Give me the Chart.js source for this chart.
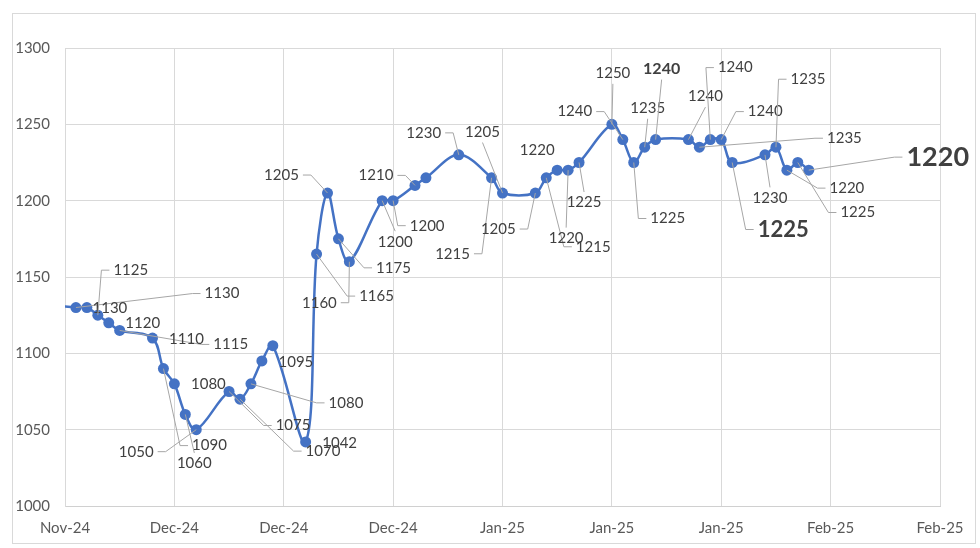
<!DOCTYPE html>
<html>
<head>
<meta charset="utf-8">
<script src="https://cdn.jsdelivr.net/npm/chart.js@4.4.1/dist/chart.umd.min.js"></script>
<style>
  html, body { margin: 0; padding: 0; background: #fff; }
  #wrap { width: 980px; height: 548px; }
</style>
</head>
<body>
<div id="wrap"><canvas id="priceChart" width="980" height="548"></canvas></div>
<script>
// days counted from the start of the axis (one tick every 10 days)
const days = [-3, 1, 2, 3, 4, 5, 8, 9, 10, 11, 12, 15, 16, 17, 18, 19, 22, 23, 24, 25, 26, 29, 30, 32, 33,
  36, 39, 40, 43, 44, 45, 46, 47, 50, 51, 52, 53, 54, 57, 58, 59, 60, 61, 64, 65, 66, 67, 68];
const prices = [1133, 1130, 1130, 1125, 1120, 1115, 1110, 1090, 1080, 1060, 1050, 1075, 1070, 1080, 1095, 1105,
  1042, 1165, 1205, 1175, 1160, 1200, 1200, 1210, 1215, 1230, 1215, 1205, 1205, 1215, 1220, 1220, 1225,
  1250, 1240, 1225, 1235, 1240, 1240, 1235, 1240, 1240, 1225, 1230, 1235, 1220, 1225, 1220];
const xTickLabels = ["Nov-24", "Dec-24", "Dec-24", "Dec-24", "Jan-25", "Jan-25", "Jan-25", "Feb-25", "Feb-25"];

// where each data label sits, relative to its point (null = no label)
const labelOffsets = [
  null, [146, -14], [23, 1], [33, -45], [34, 0], [111, 14], [34, 1], [46, 77], [34, 0], [9, 49],
  [-60, 22], [64, 34], [83, 52], [95, 19], [34, 1], null, [34, 1], [60, 42], [-46, -18], [55, 29],
  [-30, 41], [13, 41], [34, 25], [-39, -10], null, [-35, -22], [-39, 76], [-20, -61], [-37, 36], [47, 69],
  [-20, -20], [-2, 68], [5, 40], [1, -51], [-48, -28], [34, 56], [3, -39], [6, -71], [17, -43], [145, -9],
  [25, -72], [44, -28], [51, 67], [5, 43], [32, -68], [60, 18], [60, 50], [129, -13]
];
// bigger bold labels
const labelSizes = { 37: 16, 42: 22, 47: 27 };

const frame = {
  id: "frame",
  beforeDraw(chart) {
    const ctx = chart.ctx;
    ctx.save();
    ctx.strokeStyle = "#d9d9d9";
    ctx.lineWidth = 1;
    ctx.strokeRect(12.5, 13.5, 963, 530);
    ctx.restore();
  },
};

const dataLabels = {
  id: "dataLabels",
  afterDatasetsDraw(chart) {
    const ctx = chart.ctx;
    const meta = chart.getDatasetMeta(0);
    ctx.save();
    meta.data.forEach((pt, i) => {
      const off = labelOffsets[i];
      if (!off) return;
      const size = labelSizes[i] || 15;
      ctx.font = (labelSizes[i] ? "bold " : "") + size + "px Lato";
      const text = String(prices[i]);
      const w = ctx.measureText(text).width;
      const cx = pt.x + off[0];
      const cy = pt.y + off[1];
      const left = cx - w / 2 - 4, right = cx + w / 2 + 4;
      const top = cy - size / 2 - 3, bottom = cy + size / 2 + 3;

      const gx = Math.max(left - pt.x, 0, pt.x - right);
      const gy = Math.max(top - pt.y, 0, pt.y - bottom);
      if (Math.hypot(gx, gy) > 14) {
        ctx.strokeStyle = "#a6a6a6";
        ctx.lineWidth = 1;
        ctx.beginPath();
        ctx.moveTo(pt.x, pt.y);
        if (pt.x < left - 2) {
          if (Math.abs(pt.y - cy) > 4) ctx.lineTo(left - 8, cy);
          ctx.lineTo(left, cy);
        } else if (pt.x > right + 2) {
          if (Math.abs(pt.y - cy) > 4) ctx.lineTo(right + 8, cy);
          ctx.lineTo(right, cy);
        } else {
          ctx.lineTo(cx, pt.y < top ? top : bottom);
        }
        ctx.stroke();
      }
      ctx.fillStyle = "#404040";
      ctx.textAlign = "center";
      ctx.textBaseline = "middle";
      ctx.fillText(text, cx, cy);
    });
    ctx.restore();
  },
};

new Chart(document.getElementById("priceChart"), {
  type: "line",
  data: {
    datasets: [
      {
        data: days.map((d, i) => ({ x: d, y: prices[i] })),
        borderColor: "#4472C4",
        borderWidth: 2.5,
        backgroundColor: "#4472C4",
        pointRadius: 5.5,
        pointBorderWidth: 0,
        pointBackgroundColor: "#4472C4",
        tension: 0.35,
      },
    ],
  },
  options: {
    responsive: false,
    animation: false,
    devicePixelRatio: 1,
    layout: { padding: { top: 48, right: 40, left: 0, bottom: 0 } },
    plugins: {
      legend: { display: false },
      tooltip: { enabled: false },
    },
    scales: {
      x: {
        type: "linear",
        min: 0,
        max: 80,
        afterFit: (scale) => { scale.height = 42; },
        ticks: {
          stepSize: 10,
          autoSkip: false,
          maxRotation: 0,
          padding: 13,
          color: "#595959",
          font: { family: "Lato", size: 15 },
          callback: (v, i) => xTickLabels[i],
        },
        grid: { color: "#d9d9d9", drawTicks: false },
        border: { color: "#d0d0d0" },
      },
      y: {
        min: 1000,
        max: 1300,
        afterFit: (scale) => { scale.width = 65; },
        ticks: {
          stepSize: 50,
          padding: 15,
          color: "#595959",
          font: { family: "Lato", size: 15 },
          callback: (v) => String(v),
        },
        grid: { color: "#d9d9d9", drawTicks: false },
        border: { color: "#d9d9d9" },
      },
    },
  },
  plugins: [frame, dataLabels],
});
</script>
</body>
</html>
